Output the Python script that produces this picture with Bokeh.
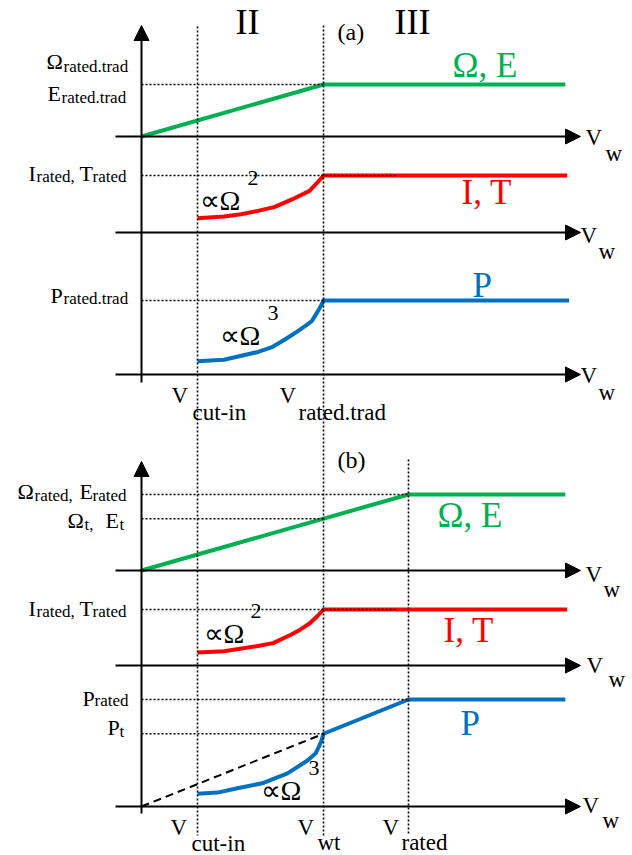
from bokeh.plotting import figure
from bokeh.models import Range1d, Arrow, NormalHead
from bokeh.embed import file_html
from bokeh.resources import INLINE
from bokeh.core.properties import value

# ---- wind speeds (normalised units) ----
v_cut_in = 3.0
v_rated_trad = 9.75     # (a) rated wind speed of the conventional scheme
v_wt = 9.75             # (b) transition wind speed
v_rated = 14.3          # (b) rated wind speed
v_end = 22.7

# ---- (a) conventional control, per-unit values ----
a_omega_v = [0.0, v_rated_trad, v_end]
a_omega = [0.0, 1.0, 1.0]

a_torque_v = [3.0, 4.42, 5.34, 6.24, 7.14, 8.06, 9.0, 9.39, 9.75, 22.8]
a_torque = [0.25, 0.28, 0.32, 0.38, 0.45, 0.58, 0.73, 0.865, 1.0, 1.0]

a_power_v = [3.0, 4.42, 6.24, 6.96, 7.66, 8.22, 8.74, 9.12, 9.41, 9.57, 9.75, 22.9]
a_power = [0.18, 0.20, 0.305, 0.366, 0.47, 0.56, 0.65, 0.722, 0.84, 0.908, 1.0, 1.0]

# ---- (b) proposed control, per-unit values ----
omega_t = 0.68
p_t = 0.68

b_omega_v = [0.0, v_rated, v_end]
b_omega = [0.0, 1.0, 1.0]

b_torque_v = [3.0, 4.42, 6.17, 7.05, 8.0, 8.5, 9.0, 9.4, 9.75, 22.8]
b_torque = [0.23, 0.255, 0.345, 0.40, 0.55, 0.64, 0.75, 0.875, 1.0, 1.0]

b_power_v = [3.0, 4.07, 5.14, 6.53, 7.82, 8.89, 9.32, 9.48, 9.65, 9.75, v_rated, v_end]
b_power = [0.12, 0.13, 0.17, 0.22, 0.31, 0.43, 0.495, 0.55, 0.62, p_t, 1.0, 1.0]

b_ref_v = [0.0, v_wt]
b_ref = [0.0, p_t]

GREEN = "#00B050"
RED = "#FF0000"
BLUE = "#0070C0"
FONT = value("Liberation Serif")

W, H = 632, 855
ORIGIN_X = 141          # pixel column of the vertical axes
K = 18.67               # pixels per wind-speed unit

# panel name -> (baseline pixel row, pixels per unit value)
PANELS = {
    "a_omega": (136, 52),
    "a_it": (232, 57),
    "a_p": (374, 74),
    "b_omega": (570, 76),
    "b_it": (665, 56),
    "b_p": (806, 107),
}

p = figure(width=W, height=H, output_backend="svg", toolbar_location=None,
           x_range=Range1d(-ORIGIN_X / K, (W - ORIGIN_X) / K),
           y_range=Range1d(H, 0),
           x_axis_location=None, y_axis_location=None, min_border=0)
p.grid.visible = False
p.outline_line_color = None
p.background_fill_color = "white"
p.border_fill_color = "white"

p.extra_x_ranges = {"px": Range1d(0, W)}
p.extra_y_ranges = {name: Range1d(start=(b - H) / u, end=b / u)
                    for name, (b, u) in PANELS.items()}

axis_start = (115 - ORIGIN_X) / K
axis_tip = (580 - ORIGIN_X) / K

# horizontal axes with arrow heads
for name in PANELS:
    p.add_layout(Arrow(x_start=axis_start, y_start=0, x_end=axis_tip, y_end=0,
                       line_width=2, line_color="black",
                       end=NormalHead(size=15, fill_color="black", line_color="black"),
                       y_range_name=name))

# vertical axes
for y0, y1 in [(382, 25), (813, 461)]:
    p.add_layout(Arrow(x_start=0, y_start=y0, x_end=0, y_end=y1,
                       line_width=2, line_color="black",
                       end=NormalHead(size=15, fill_color="black", line_color="black")))

# curves
LW = 4
CURVE = dict(line_width=LW, line_join="round", line_cap="butt")
p.line(a_omega_v, a_omega, line_color=GREEN, y_range_name="a_omega", **CURVE)
p.line(a_torque_v, a_torque, line_color=RED, y_range_name="a_it", **CURVE)
p.line(a_power_v, a_power, line_color=BLUE, y_range_name="a_p", **CURVE)
p.line(b_omega_v, b_omega, line_color=GREEN, y_range_name="b_omega", **CURVE)
p.line(b_torque_v, b_torque, line_color=RED, y_range_name="b_it", **CURVE)
p.line(b_power_v, b_power, line_color=BLUE, y_range_name="b_p", **CURVE)
p.line(b_ref_v, b_ref, line_color="black", line_width=2, line_dash="8 5",
       y_range_name="b_p")

# dotted guides
DOT = dict(line_color="black", line_width=1.6, line_dash="2 2")
it_dot_end = (397 - ORIGIN_X) / K
for name, level, v_to in [("a_omega", 1.0, v_rated_trad),
                          ("a_it", 1.0, it_dot_end),
                          ("a_p", 1.0, v_rated_trad),
                          ("b_omega", 1.0, v_rated),
                          ("b_omega", omega_t, v_wt),
                          ("b_it", 1.0, it_dot_end),
                          ("b_p", 1.0, v_rated),
                          ("b_p", p_t, v_wt)]:
    p.line([0, v_to], [level, level], y_range_name=name, **DOT)

for v, y_top in [(v_cut_in, 26), (v_rated_trad, 25), (v_rated, 459)]:
    p.line([v, v], [y_top, 835], **DOT)


def txt(x, y, s, size, color="black"):
    # y is the baseline row; the glyph is anchored on the middle of its em box
    p.text(x=[x], y=[y - 0.34 * size], text=[s], text_font=FONT,
           text_font_size=f"{size}px", text_color=color,
           text_align="left", text_baseline="middle", x_range_name="px")


# region numbers and panel tags
txt(235, 34, "II", 36)
txt(394, 34, "III", 36)
txt(337, 40, "(a)", 24)
txt(337, 468, "(b)", 24)

# curve names
txt(452, 77, "Ω, E", 35, GREEN)
txt(461, 204, "I, T", 35, RED)
txt(472, 297, "P", 35, BLUE)
txt(437, 527, "Ω, E", 35, GREEN)
txt(443, 642, "I, T", 35, RED)
txt(460, 735, "P", 35, BLUE)

# proportionality notes
for x, yb, sup, xs in [(199, 210, "2", 247), (219, 345, "3", 267),
                       (203, 643, "2", 250), (260, 800, "3", 308)]:
    txt(x, yb, "∝Ω", 28)
    txt(xs, yb - 25, sup, 22)

# level labels on the vertical axes
MAIN, SUB = 22, 17
txt(46, 68, "Ω", MAIN); txt(63, 72, "rated.trad", SUB)
txt(47, 100, "E", MAIN); txt(61, 103, "rated.trad", SUB)
txt(28, 180, "I", MAIN); txt(36, 182, "rated,", SUB)
txt(79, 180, "T", MAIN); txt(92, 182, "rated", SUB)
txt(50, 302, "P", MAIN); txt(63, 304, "rated.trad", SUB)

txt(17, 498, "Ω", MAIN); txt(34, 501, "rated,", SUB)
txt(79, 498, "E", MAIN); txt(92, 501, "rated", SUB)
txt(67, 527, "Ω", MAIN); txt(84, 530, "t,", SUB)
txt(105, 527, "E", MAIN); txt(119, 530, "t", SUB)
txt(28, 615, "I", MAIN); txt(36, 617, "rated,", SUB)
txt(79, 615, "T", MAIN); txt(92, 617, "rated", SUB)
txt(82, 705, "P", MAIN); txt(94, 706, "rated", SUB)
txt(107, 734, "P", MAIN); txt(119, 737, "t", SUB)

# wind-speed labels under the axes
BOT = 23
txt(171, 403, "V", BOT); txt(192, 420, "cut-in", BOT)
txt(279, 403, "V", BOT); txt(298, 420, "rated.trad", BOT)
txt(170, 835, "V", BOT); txt(191, 851, "cut-in", BOT)
txt(297, 835, "V", BOT); txt(317, 850, "wt", BOT)
txt(382, 835, "V", BOT); txt(401, 850, "rated", BOT)

# axis names
for vx, vb, wx, wb in [(585, 145, 605, 161), (580, 243, 598, 259),
                       (580, 383, 598, 400), (585, 582, 603, 597),
                       (586, 673, 608, 687), (582, 813, 602, 828)]:
    txt(vx, vb, "V", BOT)
    txt(wx, wb, "w", BOT)

open("out.html", "w").write(file_html(p, INLINE))
